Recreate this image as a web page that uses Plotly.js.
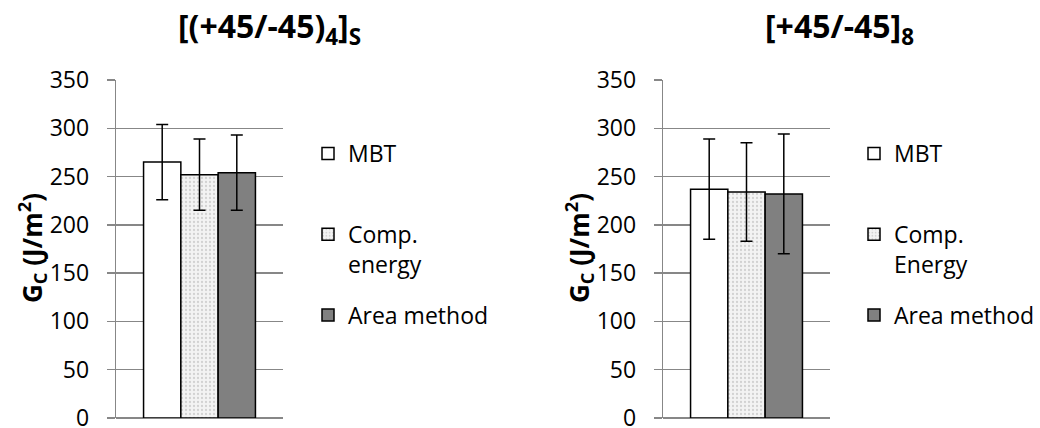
<!DOCTYPE html>
<html>
<head>
<meta charset="utf-8">
<script src="https://cdn.plot.ly/plotly-3.0.1.min.js"></script>
<style>html,body{margin:0;padding:0;background:#fff;}#chart{width:1040px;height:428px;}</style>
</head>
<body>
<div id="chart"></div>
<script>
// ---- data ----
const panelTitles = ['[(+45/-45)<sub>4</sub>]<sub>S</sub>', '[+45/-45]<sub>8</sub>'];
const seriesNamesLeft = ['MBT', 'Comp.<br>energy', 'Area method'];
const seriesNamesRight = ['MBT', 'Comp.<br>Energy', 'Area method'];
const category = [''];
const mbtLeft = [265];   const mbtLeftErr = [39];
const compLeft = [252];  const compLeftErr = [37];
const areaLeft = [254];  const areaLeftErr = [39];
const mbtRight = [237];  const mbtRightErr = [52];
const compRight = [234]; const compRightErr = [51];
const areaRight = [232]; const areaRightErr = [62];
const yTickVals = [0, 50, 100, 150, 200, 250, 300, 350];
const yTitle = '<b>G<sub>C</sub> (J/m<sup>2</sup>)</b>';

// ---- styles ----
const FONT = 'Open Sans, Liberation Sans, sans-serif';
const GRID = '#878787';
const styles = [
  {color: '#ffffff', line: {color: '#000', width: 1.5}},
  {color: '#f1f1f1', line: {color: '#000', width: 1.5},
   pattern: {shape: '.', fgcolor: '#d2d2d2', bgcolor: '#f3f3f3', size: 4, solidity: 0.25}},
  {color: '#808080', line: {color: '#000', width: 1.5}}
];

// single-line legend names get an empty second line so every item has equal height
function legName(n) { return n.indexOf('<br>') >= 0 ? n : n + '<br>&nbsp;'; }

function mk(name, y, err, idx, xa, ya, legend) {
  return {
    type: 'bar', name: legName(name), x: category, y: y,
    xaxis: xa, yaxis: ya, legend: legend, legendgroup: legend + idx,
    marker: styles[idx],
    error_y: {type: 'data', array: err, visible: true, color: '#000', thickness: 1.5, width: 6},
    hoverinfo: 'skip'
  };
}

const data = [
  mk(seriesNamesLeft[0], mbtLeft, mbtLeftErr, 0, 'x', 'y', 'legend'),
  mk(seriesNamesLeft[1], compLeft, compLeftErr, 1, 'x', 'y', 'legend'),
  mk(seriesNamesLeft[2], areaLeft, areaLeftErr, 2, 'x', 'y', 'legend'),
  mk(seriesNamesRight[0], mbtRight, mbtRightErr, 0, 'x2', 'y2', 'legend2'),
  mk(seriesNamesRight[1], compRight, compRightErr, 1, 'x2', 'y2', 'legend2'),
  mk(seriesNamesRight[2], areaRight, areaRightErr, 2, 'x2', 'y2', 'legend2')
];

function yax(anchor) {
  return {
    anchor: anchor, domain: [10/428, 348/428], range: [0, 350],
    tickvals: yTickVals, ticks: 'outside', ticklen: 8, tickcolor: GRID, tickwidth: 1.3,
    showgrid: true, gridcolor: GRID, gridwidth: 1.3,
    showline: true, linecolor: GRID, linewidth: 1.3,
    zeroline: true, zerolinecolor: GRID, zerolinewidth: 1.3,
    ticklabelstandoff: 13, ticklabeloverflow: 'allow',
    tickfont: {family: FONT, size: 23, color: '#000'}
  };
}
function xax(anchor, dom) {
  return {anchor: anchor, domain: dom, showticklabels: false, showgrid: false,
          zeroline: false, showline: false, ticks: ''};
}
function leg(x) {
  return {x: x, xanchor: 'left', y: 1 - 132/428, yanchor: 'top',
          font: {family: FONT, size: 23, color: '#000'},
          valign: 'top', tracegroupgap: 18, bgcolor: 'rgba(0,0,0,0)',
          itemclick: false, itemdoubleclick: false};
}

const layout = {
  width: 1040, height: 428,
  margin: {l: 0, r: 0, t: 0, b: 0},
  paper_bgcolor: '#fff', plot_bgcolor: '#fff',
  barmode: 'group', bargap: 0.33, bargroupgap: 0,
  showlegend: true,
  xaxis: xax('y', [116/1040, 283/1040]),
  yaxis: yax('x'),
  xaxis2: xax('y2', [663/1040, 830/1040]),
  yaxis2: yax('x2'),
  legend: leg(308/1040),
  legend2: leg(854/1040),
  annotations: [
    {text: '<b>' + panelTitles[0] + '</b>', xref: 'paper', yref: 'paper',
     x: 269/1040, y: 1 - 28/428, xanchor: 'center', yanchor: 'middle', showarrow: false,
     font: {family: FONT, size: 32, color: '#000'}},
    {text: '<b>' + panelTitles[1] + '</b>', xref: 'paper', yref: 'paper',
     x: 839/1040, y: 1 - 28/428, xanchor: 'center', yanchor: 'middle', showarrow: false,
     font: {family: FONT, size: 32, color: '#000'}},
    {text: yTitle, xref: 'paper', yref: 'paper', textangle: -90,
     x: 32/1040, y: 1 - 248/428, xanchor: 'center', yanchor: 'middle', showarrow: false,
     font: {family: FONT, size: 26, color: '#000'}},
    {text: yTitle, xref: 'paper', yref: 'paper', textangle: -90,
     x: 579/1040, y: 1 - 248/428, xanchor: 'center', yanchor: 'middle', showarrow: false,
     font: {family: FONT, size: 26, color: '#000'}}
  ]
};

Plotly.newPlot('chart', data, layout, {staticPlot: true, displayModeBar: false});
</script>
</body>
</html>
